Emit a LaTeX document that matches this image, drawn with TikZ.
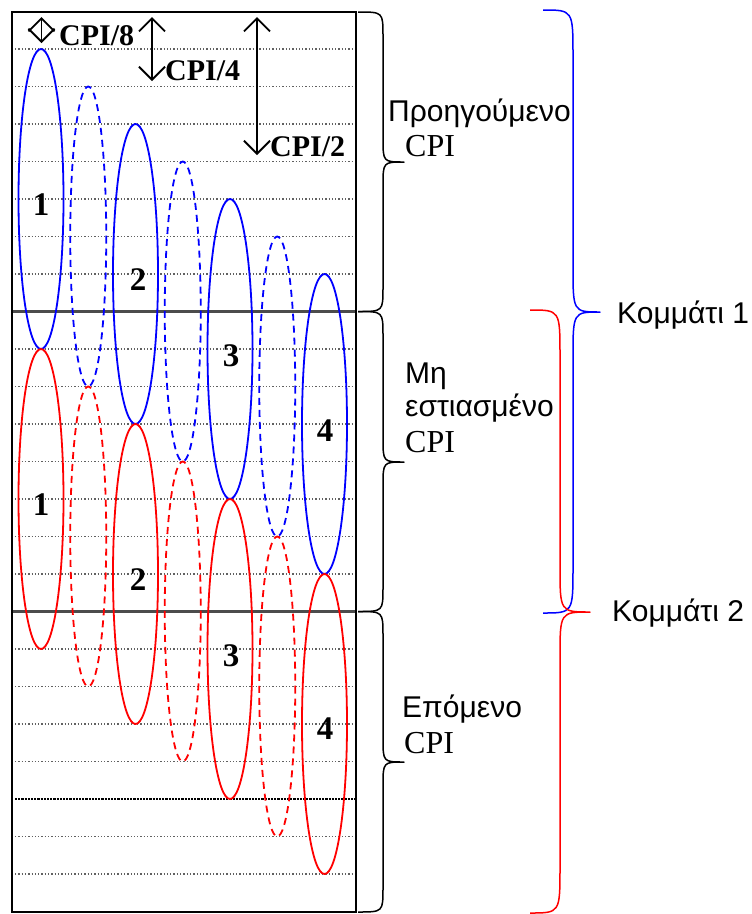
\documentclass[tikz,border=0pt]{standalone}
\usepackage{fontspec}
\setmainfont{Liberation Serif}
\newfontfamily\greeksans{Liberation Sans}
\usetikzlibrary{arrows.meta}
\definecolor{beamblue}{RGB}{0,0,255}
\definecolor{beamred}{RGB}{255,0,0}

% curly brace: #2 start x, #3 spine x, #4 tip x, #5 top y, #6 tip y, #7 bottom y, #8 bend
\newcommand\curlybrace[8][]{%
  \draw[brace,#1] (#2,#5) .. controls (#3,#5) .. (#3,#5+#8) -- (#3,#6-#8)
    .. controls (#3,#6) .. (#4,#6) .. controls (#3,#6) .. (#3,#6+#8)
    -- (#3,#7-#8) .. controls (#3,#7) .. (#2,#7);}

\begin{document}
\begin{tikzpicture}[x=1pt,y=-1pt,
  frame/.style={line width=2.4pt},
  gridline/.style={line width=1.4pt, black!62, dash pattern=on 1.3pt off 2pt},
  boldgrid/.style={line width=2pt, black, dash pattern=on 2.2pt off 1pt},
  splitline/.style={line width=2.2pt, black!70},
  solidell/.style={line width=1.8pt},
  dashell/.style={line width=1.8pt, dash pattern=on 7pt off 5pt},
  dim/.style={line width=1.9pt,
    {Straight Barb[length=13pt,width=26pt]}-{Straight Barb[length=13pt,width=26pt]}},
  brace/.style={line width=1.5pt, line join=round},
  tag/.style={font=\fontsize{30}{34}\selectfont\bfseries, inner sep=0pt, anchor=base west},
  num/.style={font=\fontsize{33}{36}\selectfont\bfseries, inner sep=0pt, anchor=base},
  gr/.style={font=\greeksans\fontsize{30}{34}\selectfont, inner sep=0pt, anchor=base west},
  cpi/.style={font=\fontsize{32}{36}\selectfont, inner sep=0pt, anchor=base west},
]
\useasboundingbox (0,0) rectangle (752,914);

% range-bin grid
\foreach \k in {1,...,23}{
  \ifnum\k=8\relax\else\ifnum\k=16\relax\else\ifnum\k=21\relax\else
    \draw[gridline] (15,11.5+37.5*\k) -- (355,11.5+37.5*\k);
  \fi\fi\fi
}
\draw[boldgrid] (15,11.5+37.5*21) -- (355,11.5+37.5*21);
\draw[splitline] (12,311.5) -- (356,311.5);
\draw[splitline] (12,611.5) -- (356,611.5);

% pulses of the previous / unfocused / next CPI
\foreach \i in {0,...,6}{
  \pgfmathsetmacro\xc{41+47.25*\i}
  \ifodd\i
    \draw[dashell,beamblue] (\xc,11.5+37.5*5+37.5*\i) ellipse [x radius=18, y radius=150];
    \draw[dashell,beamred] (\xc,11.5+37.5*13+37.5*\i) ellipse [x radius=18, y radius=150];
  \else
    \draw[solidell,beamblue] (\xc,11.5+37.5*5+37.5*\i) ellipse [x radius=22.5, y radius=150];
    \draw[solidell,beamred] (\xc,11.5+37.5*13+37.5*\i) ellipse [x radius=22.5, y radius=150];
  \fi
}

% pulse numbers
\node[num] (n1a) at (41,215) {1};
\node[num] (n1b) at (41,515) {1};
\node[num] (n2a) at (138,290) {2};
\node[num] (n2b) at (138,590) {2};
\node[num] (n3a) at (231,366) {3};
\node[num] (n3b) at (231,666) {3};
\node[num] (n4a) at (325,441) {4};
\node[num] (n4b) at (325,739) {4};

% outer frame
\draw[frame] (12,12) rectangle (356,912);

% interval markers
\coordinate (d8t) at (41.5,17);  \coordinate (d8b) at (41.5,43);
\coordinate (d4t) at (152,17);   \coordinate (d4b) at (152,81);
\coordinate (d2t) at (257,17);   \coordinate (d2b) at (257,155);
\draw[dim] (d8t) -- (d8b);
\draw[dim] (d4t) -- (d4b);
\draw[dim] (d2t) -- (d2b);
\node[tag] (l8) at (59,45) {CPI/8};
\node[tag] (l4) at (165,80) {CPI/4};
\node[tag] (l2) at (270,156) {CPI/2};

% CPI braces
\curlybrace{358}{383}{404}{12}{162}{311.5}{24}
\curlybrace{358}{383}{404}{311.5}{462}{611.5}{24}
\curlybrace{358}{383}{404}{611.5}{762}{912}{24}

\node[gr] (prevA) at (388,121) {Προηγούμενο};
\node[cpi] (prevB) at (405,156) {CPI};
\node[gr] (unfA) at (405,383) {Μη};
\node[gr] (unfB) at (405,416) {εστιασμένο};
\node[cpi] (unfC) at (405,452) {CPI};
\node[gr] (nextA) at (402,717) {Επόμενο};
\node[cpi] (nextB) at (404,753) {CPI};

% chunk braces
\curlybrace[beamblue]{543}{573}{600}{10}{312}{613}{46}
\curlybrace[beamred]{530}{560}{590}{310}{612}{913}{46}

\node[gr] (chunk1) at (617,323) {Κομμάτι 1};
\node[gr] (chunk2) at (612,621) {Κομμάτι 2};
\end{tikzpicture}
\end{document}
